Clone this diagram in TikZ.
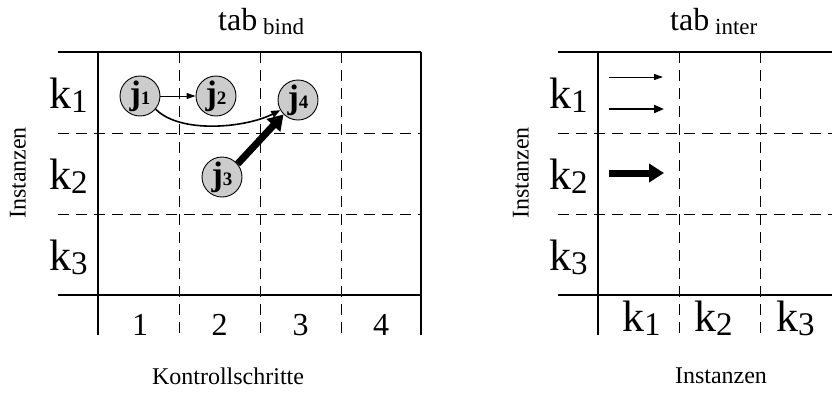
\documentclass[tikz,border=0pt]{standalone}
\usepackage{fontspec}
\setmainfont{Liberation Serif}
\usetikzlibrary{arrows.meta}
\newcommand\klab[1]{{\fontsize{44}{44}\selectfont k}\raisebox{-4pt}{\fontsize{33}{33}\selectfont #1}}
\newcommand\jlab[1]{{\fontsize{34}{34}\selectfont\bfseries j}{\fontsize{19}{19}\selectfont\bfseries #1}}
\begin{document}
\begin{tikzpicture}[x=1pt,y=-1pt,
  solidln/.style={line width=1.3pt},
  dashln/.style={line width=1pt, dash pattern=on 11pt off 7pt},
  jnode/.style={circle, draw, line width=0.9pt, fill=black!20, minimum size=40pt, inner sep=0pt},
  lbl/.style={inner sep=0pt, anchor=base west},
  axis/.style={inner sep=0pt, font=\fontsize{24}{24}\selectfont},
  thinarr/.style={line width=1pt, -{Triangle[length=9pt,width=6pt]}},
  medarr/.style={line width=2pt, -{Triangle[length=10pt,width=8pt]}},
  thickarr/.style={line width=7pt, -{Triangle[length=15pt,width=18pt]}}
]
\useasboundingbox (0,0) rectangle (832,392);
% ---------- left table ----------
\draw[solidln] (58,52) -- (421,52);
\draw[solidln] (58,295) -- (421,295);
\draw[dashln] (58,133) -- (421,133);
\draw[dashln] (58,214) -- (421,214);
\draw[solidln] (98,52) -- (98,335);
\draw[solidln] (421,52) -- (421,335);
\foreach \x in {179,260,341} \draw[dashln] (\x,52) -- (\x,335);
% titles
\node[lbl] (t1) at (218,30) {\fontsize{32}{32}\selectfont tab};
\node[lbl] (t1s) at (263,34) {\fontsize{23}{23}\selectfont bind};
% row labels
\node[lbl] (lk1) at (49,108) {\klab{1}};
\node[lbl] (lk2) at (49,189) {\klab{2}};
\node[lbl] (lk3) at (49,270) {\klab{3}};
% column labels
\foreach \c/\x in {1/140,2/219.5,3/300.5,4/381}
  \node[lbl, anchor=base] (col\c) at (\x,335) {\fontsize{32}{32}\selectfont \c};
% axes
\node[axis] (ax1) at (228,376) {Kontrollschritte};
\node[axis, rotate=90] (ay1) at (18,173) {Instanzen};
% j nodes
\node[jnode] (j1) at (140,96) {\jlab{1}};
\node[jnode] (j2) at (216,96) {\jlab{2}};
\node[jnode] (j4) at (298,100) {\jlab{4}};
\node[jnode] (j3) at (222,177) {\jlab{3}};
\draw[thinarr] (j1) -- (j2);
\draw[line width=1.6pt, -{Triangle[length=9pt,width=7pt]}] (j1.-40) .. controls (180,134) and (245,128) .. (j4.-150);
\draw[thickarr] (j3.40) -- (j4.-135);
% ---------- right table ----------
\draw[solidln] (558,52) -- (832,52);
\draw[solidln] (558,295) -- (832,295);
\draw[dashln] (558,133) -- (832,133);
\draw[dashln] (558,214) -- (832,214);
\draw[solidln] (598,52) -- (598,335);
\foreach \x in {679,760} \draw[dashln] (\x,52) -- (\x,335);
\node[lbl] (t2) at (670,30) {\fontsize{32}{32}\selectfont tab};
\node[lbl] (t2s) at (715,34) {\fontsize{23}{23}\selectfont inter};
\node[lbl] (rk1) at (549,108) {\klab{1}};
\node[lbl] (rk2) at (549,189) {\klab{2}};
\node[lbl] (rk3) at (549,270) {\klab{3}};
\node[lbl] (bk1) at (622,331) {\klab{1}};
\node[lbl] (bk2) at (694,331) {\klab{2}};
\node[lbl] (bk3) at (776,331) {\klab{3}};
\node[axis] (ax2) at (721,376) {Instanzen};
\node[axis, rotate=90] (ay2) at (521,173) {Instanzen};
\coordinate (a1s) at (609,77);  \coordinate (a1e) at (663,77);
\coordinate (a2s) at (609,109); \coordinate (a2e) at (664,109);
\coordinate (a3s) at (609,173); \coordinate (a3e) at (664,173);
\draw[thinarr] (a1s) -- (a1e);
\draw[medarr] (a2s) -- (a2e);
\draw[thickarr] (a3s) -- (a3e);
\end{tikzpicture}
\end{document}
